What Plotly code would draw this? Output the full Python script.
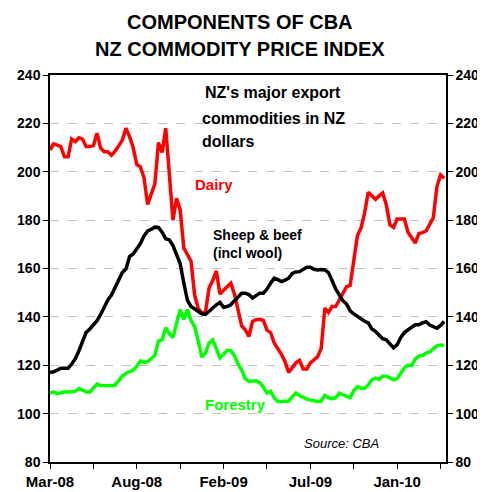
import pandas as pd
import plotly.graph_objects as go

# Weekly observations, starting early March 2008
start_date = "2008-03-07"
n_weeks = 110

dairy = [209, 211.5, 211, 210.4, 206.2, 206.2, 213.5, 212.4, 214, 213.5,
         210.4, 210.4, 210.8, 215.9, 209.8, 208.3, 208.3, 206.8, 208.5, 210.5,
         213, 218, 214.5, 210, 203, 202, 197.5, 186.5, 190.5, 195,
         212, 208, 218, 200, 180, 189, 184.2, 168.5, 165.8, 163,
         149, 143.5, 141.5, 142, 152, 155, 159, 149.5, 151, 152.3,
         153.9, 149.5, 142.5, 136.3, 134.7, 131.9, 138.1, 138.8, 139, 138.5,
         134.5, 133.5, 129.2, 127, 124.5, 121.5, 117, 119, 121, 122,
         118.5, 118.5, 121, 122.2, 123.5, 127, 143.6, 141.8, 144.3, 144.3,
         147, 149.8, 152.5, 153, 163, 173.5, 176.7, 183, 191.5, 190,
         188.6, 190, 191.2, 186.3, 178, 177, 180.5, 180.5, 180.5, 175,
         172.5, 170.5, 174.5, 174.8, 175.5, 178, 181, 194, 198.7, 197.3]

sheep_beef = [117, 117.3, 118, 118.8, 118.8, 118.8, 120.5, 122.7, 126, 129.5,
              133.6, 135, 136.5, 138.4, 141, 144, 147, 149, 152, 155.3,
              158.3, 159.8, 164.9, 166, 168.4, 170.3, 173.5, 175.5, 176.2, 177.1,
              177, 175, 172.3, 171.8, 169.5, 166, 162, 154, 146.8, 144.3,
              143.2, 142.1, 141.3, 141, 142.4, 143.7, 145, 146, 144, 144.3,
              145, 146.7, 148.5, 149.8, 149.8, 149.2, 147.8, 149, 149.8, 149.8,
              151.5, 153.9, 156, 155.4, 154.6, 155.2, 156, 158, 158.6, 158.7,
              159.7, 160.5, 160.5, 159.7, 159.4, 159.6, 159.4, 158.3, 155, 151.5,
              149.1, 146.7, 145.3, 142.5, 141.2, 140.2, 139, 138.2, 137.5, 135,
              134, 132.6, 131, 130.5, 129, 127.2, 128.5, 131.5, 133.5, 134.8,
              135.7, 136.7, 136.7, 137.5, 138, 136.6, 135.8, 135.3, 136.5, 138.1]

forestry = [108.5, 109, 108.3, 108.7, 108.9, 108.9, 108.9, 109.2, 110.4, 109.6,
            109, 108.9, 110.5, 112.2, 111.6, 111.5, 111.5, 111.5, 111.8, 113.8,
            115.5, 116.6, 117.2, 118, 119.5, 121.8, 121.2, 121.5, 122.8, 124,
            130, 130.5, 135.5, 133, 131.5, 137, 143, 139, 143, 138.5,
            136, 130, 123.4, 125, 129.2, 130.5, 127, 123, 124.5, 126.2,
            126, 124, 120.5, 118, 114.5, 113.3, 113.5, 113.6, 112.8, 111,
            108.5, 109.2, 106.5, 105, 105, 105, 105.2, 107, 108.5, 107.5,
            106.7, 106, 105.6, 105.2, 105, 105.2, 107.5, 106.6, 106.2, 106.5,
            108.5, 107.8, 107.1, 106.6, 109.5, 111.2, 110.5, 110.5, 111.8, 114,
            114.7, 114.2, 115.5, 115.5, 114.8, 114, 114.5, 116.5, 119, 120,
            119.8, 122.5, 123.8, 124, 125, 125.5, 127, 128, 128.4, 128.2]

tick_labels = ["Mar-08", "", "Aug-08", "", "Feb-09", "", "Jul-09", "", "Jan-10", ""]
y_ticks = [80, 100, 120, 140, 160, 180, 200, 220, 240]

dates = pd.date_range(start=start_date, periods=n_weeks, freq="7D")
tick_dates = list(dates[::12])

FONT = "Arial, Liberation Sans, sans-serif"

fig = go.Figure()
for vals, col, name in [(forestry, "#00FF00", "Forestry"),
                        (dairy, "#FF0000", "Dairy"),
                        (sheep_beef, "#000000", "Sheep & beef")]:
    fig.add_trace(go.Scatter(x=dates, y=vals, mode="lines", name=name,
                             line=dict(color=col, width=3.5), showlegend=False))

fig.add_trace(go.Scatter(x=[dates[0]], y=[y_ticks[0]], yaxis="y2", mode="markers",
                         marker=dict(opacity=0), showlegend=False, hoverinfo="skip"))

x_end = dates[0] + pd.Timedelta(weeks=109.5)

tickfont = dict(size=14, family=FONT, weight="bold", color="black")
xtickfont = dict(size=15, family=FONT, weight="bold", color="black")
# page body has an 8px margin, so the figure is offset by 8px
fig.update_layout(
    width=477, height=484,
    margin=dict(l=42, r=39, t=67, b=30, autoexpand=False),
    paper_bgcolor="white", plot_bgcolor="white",
    font=dict(family=FONT, color="black"),
    xaxis=dict(range=[dates[0], x_end], tickvals=tick_dates, ticktext=tick_labels,
               ticks="outside", ticklen=5, tickcolor="black", showgrid=False,
               showline=True, linecolor="black", linewidth=1.5, mirror=True,
               tickfont=xtickfont, zeroline=False, automargin=False),
    yaxis=dict(range=[80, 240], tickvals=y_ticks, ticks="outside", ticklen=5,
               tickcolor="black", showline=True, linecolor="black", linewidth=1.5,
               showgrid=True, gridcolor="#c0c0c0", griddash="dash", gridwidth=1,
               tickfont=tickfont, zeroline=False, automargin=False),
    yaxis2=dict(range=[80, 240], tickvals=y_ticks, ticks="outside", ticklen=5,
                tickcolor="black", showline=True, linecolor="black", linewidth=1.5,
                overlaying="y", side="right", showgrid=False, zeroline=False,
                tickfont=tickfont, automargin=False),
)

def px(x):
    return (x - 50) / 396

def py(y):
    return 1 - (y - 75) / 387

annos = [
    dict(x=240, y=22, text="<b>COMPONENTS OF CBA</b>", xanchor="center", size=20, color="black"),
    dict(x=240, y=49, text="<b>NZ COMMODITY PRICE INDEX</b>", xanchor="center", size=20, color="black"),
    dict(x=203, y=93, text="<b>NZ's major export</b>", xanchor="left", size=16, color="black"),
    dict(x=200, y=118, text="<b>commodities in NZ</b>", xanchor="left", size=16, color="black"),
    dict(x=200, y=141, text="<b>dollars</b>", xanchor="left", size=16, color="black"),
    dict(x=193, y=184, text="<b>Dairy</b>", xanchor="left", size=15, color="#FF0000"),
    dict(x=211, y=235, text="<b>Sheep &amp; beef</b>", xanchor="left", size=14, color="black"),
    dict(x=211, y=253, text="<b>(incl wool)</b>", xanchor="left", size=14, color="black"),
    dict(x=203, y=404, text="<b>Forestry</b>", xanchor="left", size=15, color="#00FF00"),
    dict(x=302, y=443, text="<i>Source: CBA</i>", xanchor="left", size=13, color="black"),
]
for a in annos:
    fig.add_annotation(xref="paper", yref="paper", x=px(a["x"]), y=py(a["y"]),
                       text=a["text"], xanchor=a["xanchor"], yanchor="middle",
                       showarrow=False,
                       font=dict(size=a["size"], color=a["color"], family=FONT))

fig.write_html("out.html")
